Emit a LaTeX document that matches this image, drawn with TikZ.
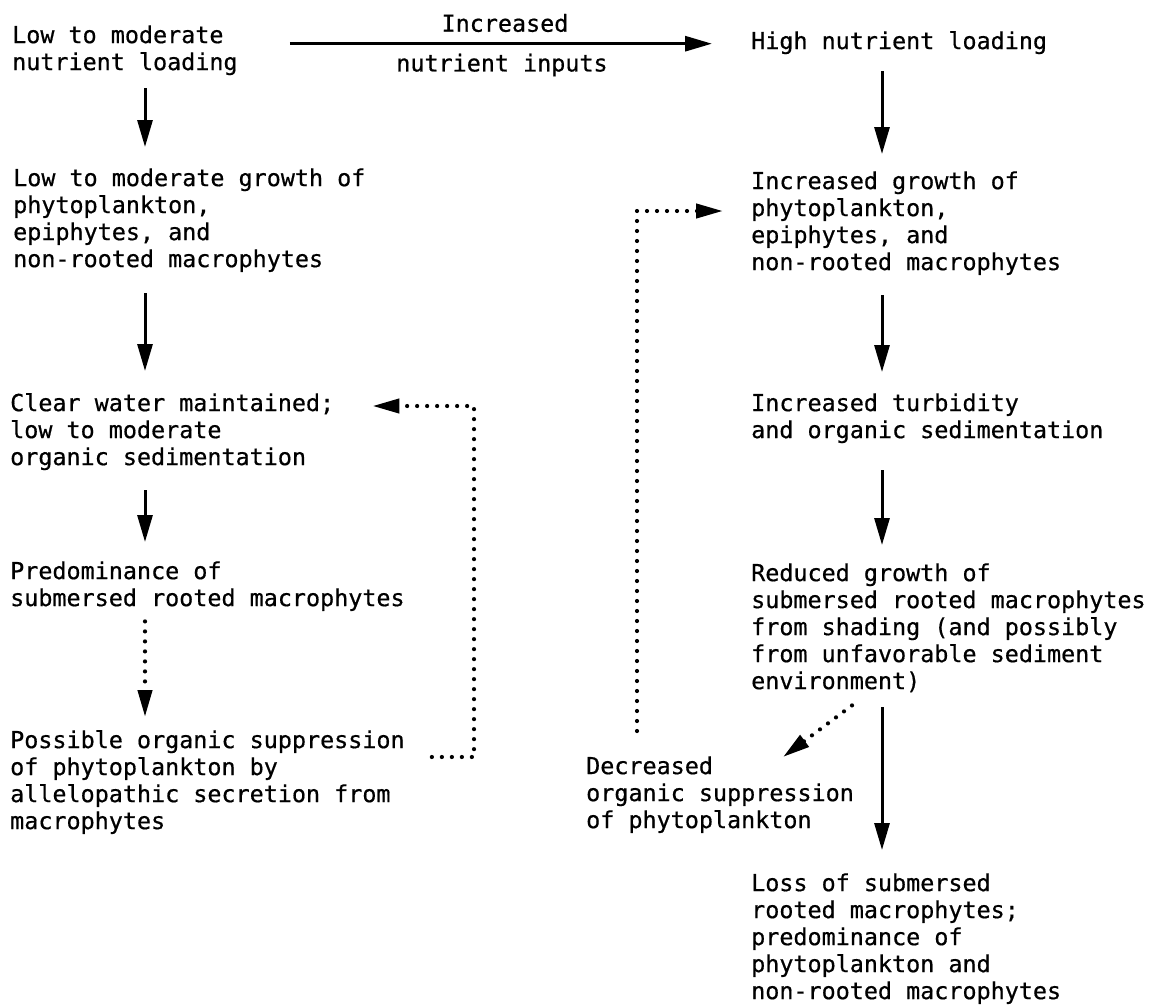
\documentclass[tikz,border=0pt]{standalone}
\usepackage{fontspec}
\newfontfamily\gothic{DejaVu Sans Mono}[FakeBold=0.6]
\usetikzlibrary{arrows.meta,calc}
\tikzset{
  txt/.style={font=\gothic\fontsize{23.4}{27}\selectfont, align=left, inner sep=0pt, anchor=north west},
  lbl/.style={font=\gothic\fontsize{23.4}{27}\selectfont, inner sep=0pt},
  arr/.style={line width=3pt, -{Triangle[length=27pt,width=15pt]}},
  dotarr/.style={line width=4.2pt, line cap=round, dash pattern=on 0pt off 10pt, -{Triangle[length=27pt,width=14pt]}},
}
\begin{document}
\begin{tikzpicture}[x=1pt,y=-1pt]
\useasboundingbox (0,0) rectangle (1157,1007);
\coordinate (cL) at (145,0);
\coordinate (cR) at (882,0);
% left column
\node[txt] (A) at (12,24) {\strut Low to moderate\\\strut nutrient loading};
\node[txt] (B) at (13,167) {\strut Low to moderate growth of\\\strut phytoplankton,\\\strut epiphytes, and\\\strut non-rooted macrophytes};
\node[txt] (C) at (10,392) {\strut Clear water maintained;\\\strut low to moderate\\\strut organic sedimentation};
\node[txt] (D) at (10,560) {\strut Predominance of\\\strut submersed rooted macrophytes};
\node[txt] (E) at (10,729) {\strut Possible organic suppression\\\strut of phytoplankton by\\\strut allelopathic secretion from\\\strut macrophytes};
% right column
\node[txt] (F) at (751,30) {\strut High nutrient loading};
\node[txt] (G) at (751,170) {\strut Increased growth of\\\strut phytoplankton,\\\strut epiphytes, and\\\strut non-rooted macrophytes};
\node[txt] (H) at (751,392) {\strut Increased turbidity\\\strut and organic sedimentation};
\node[txt] (I) at (751,562) {\strut Reduced growth of\\\strut submersed rooted macrophytes\\\strut from shading (and possibly\\\strut from unfavorable sediment\\\strut environment)};
\node[txt] (J) at (586,755) {\strut Decreased\\\strut organic suppression\\\strut of phytoplankton};
\node[txt] (K) at (751,872) {\strut Loss of submersed\\\strut rooted macrophytes;\\\strut predominance of\\\strut phytoplankton and\\\strut non-rooted macrophytes};
% top arrow and labels
\draw[arr, shorten <=52pt, shorten >=39pt] (A.east |- F.west) -- (F.west);
\node[lbl] (inc) at (505,23) {Increased};
\node[lbl] (ni) at (502,65) {nutrient inputs};
% left arrows
\draw[arr, shorten <=10pt, shorten >=20pt] (A.south -| cL) -- (B.north -| cL);
\draw[arr, shorten <=18pt, shorten >=21pt] (B.south -| cL) -- (C.north -| cL);
\draw[arr, shorten <=17pt, shorten >=18pt] (C.south -| cL) -- (D.north -| cL);
\draw[dotarr, shorten <=7pt, shorten >=12pt] (D.south -| cL) -- (E.north -| cL);
% right arrows
\draw[arr, shorten <=14pt, shorten >=16pt] (F.south -| cR) -- (G.north -| cR);
\draw[arr, shorten <=17pt, shorten >=20pt] (G.south -| cR) -- (H.north -| cR);
\draw[arr, shorten <=24pt, shorten >=17pt] (H.south -| cR) -- (I.north -| cR);
\draw[arr, shorten <=10pt, shorten >=22pt] (I.south -| cR) -- (K.north -| cR);
% feedback loops
\coordinate (lc1) at (474,757);
\coordinate (lc2) at (474,406);
\draw[dotarr] ($(E.north east)+(27,28)$) -- (lc1) -- (lc2) -- ($(C.north east)+(38,14)$);
\coordinate (rc1) at (637,211);
\draw[dotarr] ($(J.north west)+(51,-24)$) -- (rc1) -- ($(G.north west)+(-28,41)$);
\draw[dotarr] ($(I.south west)+(101,8)$) -- ($(J.north west)+(197,2)$);
\end{tikzpicture}
\end{document}
